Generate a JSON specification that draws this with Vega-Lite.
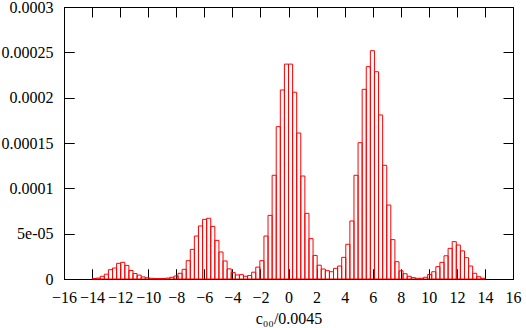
{
  "$schema": "https://vega.github.io/schema/vega-lite/v6.json",
  "width": 449,
  "height": 272,
  "autosize": "none",
  "padding": {"left": 64, "top": 7, "right": 13, "bottom": 49},
  "background": "white",
  "config": {
    "view": {"stroke": "black", "strokeWidth": 1},
    "axis": {
      "labelFont": "Liberation Serif",
      "labelFontSize": 16,
      "labelColor": "black",
      "titleFont": "Liberation Serif",
      "titleFontSize": 16,
      "titleFontWeight": "normal",
      "titleColor": "black",
      "domainColor": "black",
      "tickColor": "black",
      "tickWidth": 1,
      "labelFlush": false,
      "labelOverlap": false,
      "zindex": 1
    }
  },
  "data": {
    "values": [
      {"lo": -14, "hi": -13.7083, "v": 5e-7},
      {"lo": -13.7083, "hi": -13.4167, "v": 1e-6},
      {"lo": -13.4167, "hi": -13.125, "v": 3e-6},
      {"lo": -13.125, "hi": -12.8333, "v": 5.3e-6},
      {"lo": -12.8333, "hi": -12.5417, "v": 1.03e-5},
      {"lo": -12.5417, "hi": -12.25, "v": 1.21e-5},
      {"lo": -12.25, "hi": -11.9583, "v": 1.73e-5},
      {"lo": -11.9583, "hi": -11.6667, "v": 1.84e-5},
      {"lo": -11.6667, "hi": -11.375, "v": 1.5e-5},
      {"lo": -11.375, "hi": -11.0833, "v": 9.4e-6},
      {"lo": -11.0833, "hi": -10.7917, "v": 6e-6},
      {"lo": -10.7917, "hi": -10.5, "v": 4.3e-6},
      {"lo": -10.5, "hi": -10.2083, "v": 2.3e-6},
      {"lo": -10.2083, "hi": -9.9167, "v": 1.4e-6},
      {"lo": -9.9167, "hi": -9.625, "v": 8e-7},
      {"lo": -9.625, "hi": -9.3333, "v": 5e-7},
      {"lo": -9.3333, "hi": -9.0417, "v": 5e-7},
      {"lo": -9.0417, "hi": -8.75, "v": 6e-7},
      {"lo": -8.75, "hi": -8.4583, "v": 1e-6},
      {"lo": -8.4583, "hi": -8.1667, "v": 1.9e-6},
      {"lo": -8.1667, "hi": -7.875, "v": 3.3e-6},
      {"lo": -7.875, "hi": -7.5833, "v": 6.3e-6},
      {"lo": -7.5833, "hi": -7.2917, "v": 1.07e-5},
      {"lo": -7.2917, "hi": -7, "v": 2.02e-5},
      {"lo": -7, "hi": -6.7083, "v": 3.27e-5},
      {"lo": -6.7083, "hi": -6.4167, "v": 4.74e-5},
      {"lo": -6.4167, "hi": -6.125, "v": 5.85e-5},
      {"lo": -6.125, "hi": -5.8333, "v": 6.58e-5},
      {"lo": -5.8333, "hi": -5.5417, "v": 6.7e-5},
      {"lo": -5.5417, "hi": -5.25, "v": 5.8e-5},
      {"lo": -5.25, "hi": -4.9583, "v": 4.26e-5},
      {"lo": -4.9583, "hi": -4.6667, "v": 2.98e-5},
      {"lo": -4.6667, "hi": -4.375, "v": 1.99e-5},
      {"lo": -4.375, "hi": -4.0833, "v": 1.12e-5},
      {"lo": -4.0833, "hi": -3.7917, "v": 7e-6},
      {"lo": -3.7917, "hi": -3.5, "v": 4.5e-6},
      {"lo": -3.5, "hi": -3.2083, "v": 4.8e-6},
      {"lo": -3.2083, "hi": -2.9167, "v": 3e-6},
      {"lo": -2.9167, "hi": -2.625, "v": 3.8e-6},
      {"lo": -2.625, "hi": -2.3333, "v": 7.5e-6},
      {"lo": -2.3333, "hi": -2.0417, "v": 1.31e-5},
      {"lo": -2.0417, "hi": -1.75, "v": 2.02e-5},
      {"lo": -1.75, "hi": -1.4583, "v": 4.74e-5},
      {"lo": -1.4583, "hi": -1.1667, "v": 7.02e-5},
      {"lo": -1.1667, "hi": -0.875, "v": 1.144e-4},
      {"lo": -0.875, "hi": -0.5833, "v": 1.68e-4},
      {"lo": -0.5833, "hi": -0.2917, "v": 2.085e-4},
      {"lo": -0.2917, "hi": 0, "v": 2.37e-4},
      {"lo": 0, "hi": 0.2917, "v": 2.37e-4},
      {"lo": 0.2917, "hi": 0.5833, "v": 2.06e-4},
      {"lo": 0.5833, "hi": 0.875, "v": 1.61e-4},
      {"lo": 0.875, "hi": 1.1667, "v": 1.136e-4},
      {"lo": 1.1667, "hi": 1.4583, "v": 7.24e-5},
      {"lo": 1.4583, "hi": 1.75, "v": 4.45e-5},
      {"lo": 1.75, "hi": 2.0417, "v": 2.6e-5},
      {"lo": 2.0417, "hi": 2.3333, "v": 1.52e-5},
      {"lo": 2.3333, "hi": 2.625, "v": 1.1e-5},
      {"lo": 2.625, "hi": 2.9167, "v": 9.2e-6},
      {"lo": 2.9167, "hi": 3.2083, "v": 8e-6},
      {"lo": 3.2083, "hi": 3.5, "v": 1.18e-5},
      {"lo": 3.5, "hi": 3.7917, "v": 1.43e-5},
      {"lo": 3.7917, "hi": 4.0833, "v": 2.39e-5},
      {"lo": 4.0833, "hi": 4.375, "v": 3.83e-5},
      {"lo": 4.375, "hi": 4.6667, "v": 6.4e-5},
      {"lo": 4.6667, "hi": 4.9583, "v": 1.144e-4},
      {"lo": 4.9583, "hi": 5.25, "v": 1.503e-4},
      {"lo": 5.25, "hi": 5.5417, "v": 2.092e-4},
      {"lo": 5.5417, "hi": 5.8333, "v": 2.342e-4},
      {"lo": 5.8333, "hi": 6.125, "v": 2.518e-4},
      {"lo": 6.125, "hi": 6.4167, "v": 2.286e-4},
      {"lo": 6.4167, "hi": 6.7083, "v": 1.809e-4},
      {"lo": 6.7083, "hi": 7, "v": 1.254e-4},
      {"lo": 7, "hi": 7.2917, "v": 8.16e-5},
      {"lo": 7.2917, "hi": 7.5833, "v": 4.34e-5},
      {"lo": 7.5833, "hi": 7.875, "v": 1.91e-5},
      {"lo": 7.875, "hi": 8.1667, "v": 9e-6},
      {"lo": 8.1667, "hi": 8.4583, "v": 5.8e-6},
      {"lo": 8.4583, "hi": 8.75, "v": 3e-6},
      {"lo": 8.75, "hi": 9.0417, "v": 1.5e-6},
      {"lo": 9.0417, "hi": 9.3333, "v": 8e-7},
      {"lo": 9.3333, "hi": 9.625, "v": 8e-7},
      {"lo": 9.625, "hi": 9.9167, "v": 1.9e-6},
      {"lo": 9.9167, "hi": 10.2083, "v": 5e-6},
      {"lo": 10.2083, "hi": 10.5, "v": 8e-6},
      {"lo": 10.5, "hi": 10.7917, "v": 1.36e-5},
      {"lo": 10.7917, "hi": 11.0833, "v": 1.84e-5},
      {"lo": 11.0833, "hi": 11.375, "v": 2.56e-5},
      {"lo": 11.375, "hi": 11.6667, "v": 3.38e-5},
      {"lo": 11.6667, "hi": 11.9583, "v": 4.12e-5},
      {"lo": 11.9583, "hi": 12.25, "v": 3.75e-5},
      {"lo": 12.25, "hi": 12.5417, "v": 3.1e-5},
      {"lo": 12.5417, "hi": 12.8333, "v": 2.35e-5},
      {"lo": 12.8333, "hi": 13.125, "v": 1.43e-5},
      {"lo": 13.125, "hi": 13.4167, "v": 6.3e-6},
      {"lo": 13.4167, "hi": 13.7083, "v": 2.5e-6},
      {"lo": 13.7083, "hi": 14, "v": 8e-7}
    ]
  },
  "mark": {"type": "bar", "fill": "white", "fillOpacity": 0, "stroke": "#ff0000", "strokeWidth": 1},
  "encoding": {
    "x": {
      "field": "lo", "type": "quantitative",
      "scale": {"domain": [-16, 16], "nice": false, "zero": false},
      "axis": {
        "orient": "bottom",
        "values": [-16, -14, -12, -10, -8, -6, -4, -2, 0, 2, 4, 6, 8, 10, 12, 14, 16],
        "tickSize": -10,
        "labelPadding": 20,
        "labelFont": "Liberation Serif",
        "labelFontSize": 16,
        "grid": true,
        "gridColor": "black",
        "gridOpacity": 1,
        "gridWidth": 1,
        "gridDash": [10, 252],
        "titleFont": "Liberation Serif",
        "titleFontSize": 16,
        "title": "c₀₀/0.0045",
        "titleY": 44,
        "titleBaseline": "alphabetic"
      }
    },
    "x2": {"field": "hi"},
    "y": {
      "field": "v", "type": "quantitative",
      "scale": {"domain": [0, 0.0003], "nice": false},
      "axis": {
        "orient": "left",
        "values": [0, 0.00005, 0.0001, 0.00015, 0.0002, 0.00025, 0.0003],
        "tickSize": -10,
        "labelPadding": 21,
        "labelFont": "Liberation Serif",
        "labelFontSize": 16,
        "labelBaseline": "middle",
        "grid": true,
        "gridColor": "black",
        "gridOpacity": 1,
        "gridWidth": 1,
        "gridDash": [10, 429],
        "labelExpr": "round(datum.value*100000)==5 ? '5e-05' : format(datum.value, '~g')",
        "title": null
      }
    },
    "y2": {"datum": 0}
  }
}
